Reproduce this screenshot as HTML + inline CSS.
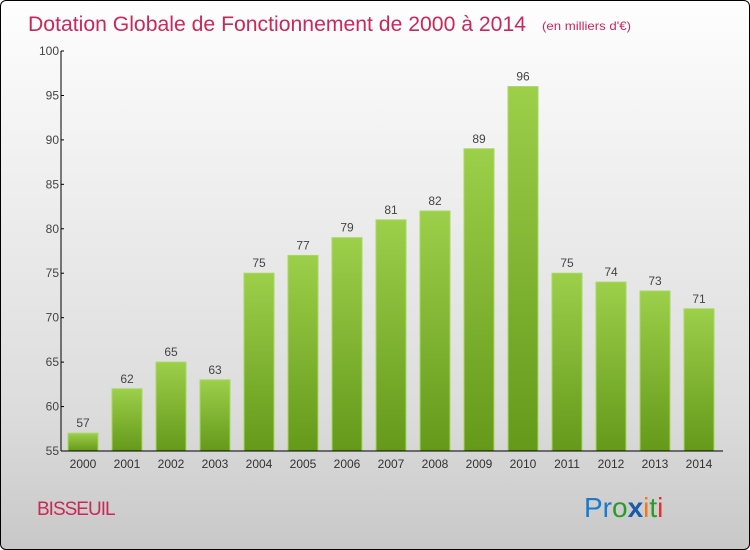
<!DOCTYPE html>
<html><head><meta charset="utf-8">
<style>
body{margin:0;width:750px;height:550px;overflow:hidden;font-family:"Liberation Sans",sans-serif}
#frame{position:absolute;left:0;top:0;width:748px;height:548px;border:1px solid #000;border-radius:6px;background:linear-gradient(#fefefe,#f0f0f0 30%,#dcdcdc 75%,#c8c8c8);overflow:hidden}
</style></head><body>
<div id="frame">
<svg id="chart" width="750" height="550" style="position:absolute;left:0;top:0">
<defs><linearGradient id="g" x1="0" y1="0" x2="0" y2="1"><stop offset="0" stop-color="#9ccf4a"/><stop offset="1" stop-color="#64991a"/></linearGradient></defs>
<text x="27" y="30" font-size="21" fill="#c8285a" textLength="498" lengthAdjust="spacingAndGlyphs">Dotation Globale de Fonctionnement de 2000 à 2014</text>
<text x="541" y="29" font-size="12" fill="#c8285a" textLength="89" lengthAdjust="spacingAndGlyphs">(en milliers d'€)</text>
<text x="36" y="514" font-size="19" fill="#c8285a" style="letter-spacing:-1px">BISSEUIL</text>
<text x="583" y="516" font-size="28"><tspan fill="#1a7acc">Pr</tspan><tspan fill="#2a9a2a">o</tspan><tspan fill="#1a5aa8" font-weight="bold">x</tspan><tspan fill="#f07818">i</tspan><tspan fill="#2a9a2a">t</tspan><tspan fill="#e03030">i</tspan></text>
<g id="plot"></g>
</svg></div>
<script>
const years=["2000","2001","2002","2003","2004","2005","2006","2007","2008","2009","2010","2011","2012","2013","2014"];
const values=[57,62,65,63,75,77,79,81,82,89,96,75,74,73,71];
const yTicks=[55,60,65,70,75,80,85,90,95,100];
const NS="http://www.w3.org/2000/svg",g=document.getElementById('plot');
const y=v=>450-(v-55)*400/45, x=i=>82+i*44;
function el(t,a){const e=document.createElementNS(NS,t);for(const k in a)e.setAttribute(k,a[k]);g.appendChild(e);return e;}
values.forEach((v,i)=>{
 const r=el('rect',{x:x(i)-15,y:y(v),width:30,height:450-y(v),fill:'url(#g)',stroke:'#a8d860','stroke-width':1});
 
 
 const t=el('text',{x:x(i),y:y(v)-6,'text-anchor':'middle','font-size':12,fill:'#444'});t.textContent=v;
 
 
 const l=el('text',{x:x(i),y:467,'text-anchor':'middle','font-size':12,fill:'#333'});l.textContent=years[i];
 
 
});
yTicks.forEach(v=>{
 el('line',{x1:60,x2:63,y1:y(v),y2:y(v),stroke:'#000'});
 const t=el('text',{x:58,y:y(v)+4,'text-anchor':'end','font-size':12,fill:'#444'});t.textContent=v;
 
 
});
const ya=el('line',{x1:60,x2:60,y1:50,y2:450,stroke:'#000'});


const xa=el('line',{x1:60,x2:722,y1:450,y2:450,stroke:'#000'});


</script>
</body></html>
